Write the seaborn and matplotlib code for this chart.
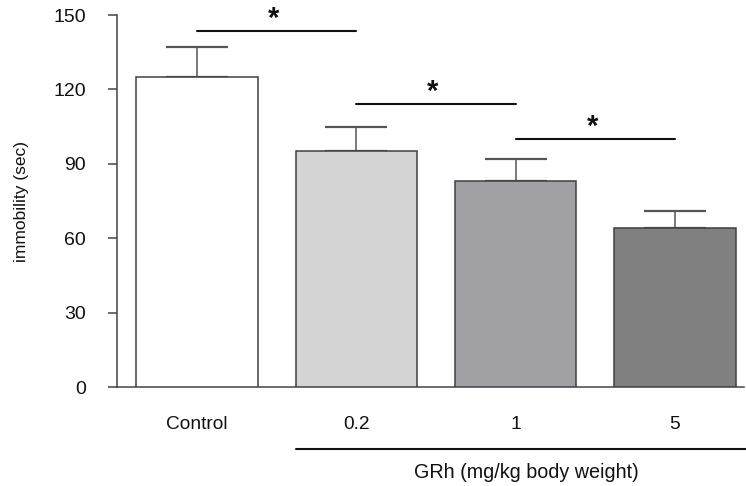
import numpy as np
import pandas as pd
import seaborn as sns
import matplotlib.pyplot as plt
from matplotlib.transforms import blended_transform_factory

# data
groups = ['Control', '0.2', '1', '5']
immobility = [125, 95, 83, 64]
sem = [12, 10, 9, 7]
bar_colors = ['#ffffff', '#d4d4d4', '#a1a1a5', '#808080']
# significance brackets: (left group, right group, height)
sig_pairs = [(0, 1, 143.5), (1, 2, 114), (2, 3, 100)]

sns.set_style('ticks')
plt.rcParams['font.family'] = ['Liberation Sans', 'DejaVu Sans']

df = pd.DataFrame({'group': groups, 'immobility': immobility})

fig = plt.figure(figsize=(7.46, 4.86), dpi=100)
ax = fig.add_axes([117 / 746, 1 - 387 / 486, 627 / 746, 372 / 486])

sns.barplot(data=df, x='group', y='immobility', hue='group', palette=bar_colors,
            legend=False, errorbar=None, saturation=1, width=0.76,
            edgecolor='#404040', linewidth=1.1, ax=ax, zorder=3)

# upper-only error bars
xpos = np.arange(len(groups))
ax.errorbar(xpos, immobility, yerr=[np.zeros(len(sem)), sem], fmt='none',
            ecolor='#555555', elinewidth=1.1, capsize=22, capthick=1.6, zorder=2)

# significance lines and stars
for a, b, h in sig_pairs:
    ax.plot([a, b], [h, h], color='#111111', lw=1.5, clip_on=False)
    ax.text((a + b) / 2 - 0.02, h + 5.0, '*', ha='center', va='center',
            fontsize=21, fontweight='bold', color='#111111')

ax.set_xlim(-0.502, 3.433)
ax.set_ylim(0, 150)
ax.set_yticks([0, 30, 60, 90, 120, 150])
ax.spines['top'].set_visible(False)
ax.spines['right'].set_visible(False)
for s in ['left', 'bottom']:
    ax.spines[s].set_color('#444444')
    ax.spines[s].set_linewidth(1.1)
ax.tick_params(axis='y', length=6.5, width=1.1, color='#444444', pad=16,
               labelsize=14, labelcolor='#111111')
ax.tick_params(axis='x', length=0, pad=21, labelsize=13.8, labelcolor='#111111')

ax.set_xlabel('')
ax.set_ylabel('immobility (sec)', fontsize=12.5, color='#111111')
ax.yaxis.label.set_va('center')
ax.yaxis.set_label_coords(-0.152, 0.5)

# bracket for dose groups below the axis
trans = blended_transform_factory(ax.transData, fig.transFigure)
ax.plot([0.62, 3.45], [1 - 449 / 486] * 2, color='#111111', lw=1.5,
        transform=trans, clip_on=False)
ax.text(2.065, 1 - 472 / 486, 'GRh (mg/kg body weight)', transform=trans,
        ha='center', va='center', fontsize=14.2, color='#111111')

fig.savefig('out.png', dpi=100)
